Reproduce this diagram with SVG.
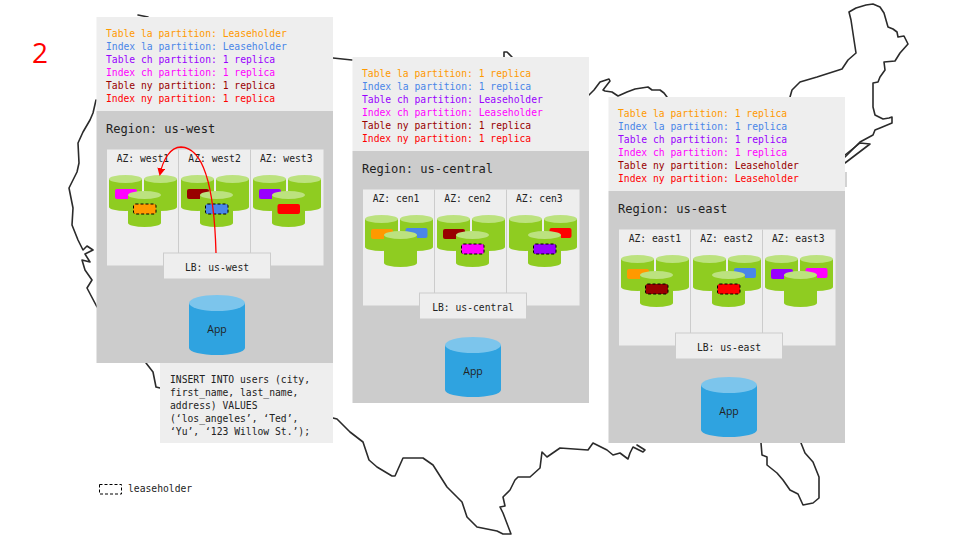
<svg xmlns="http://www.w3.org/2000/svg" xmlns:xlink="http://www.w3.org/1999/xlink" width="960" height="540" viewBox="0 0 960 540">
<style>
text{font-family:"DejaVu Sans Mono","Liberation Mono",monospace;font-size:9.7px;fill:#222}
.map{fill:none;stroke:#2b2b2b;stroke-width:1.6;stroke-linejoin:round;stroke-linecap:round}
.info{fill:#eee}.region{fill:#ccc}
.rt{font-size:12.1px}
.mid{text-anchor:middle}
.div{stroke:#ccc;stroke-width:1}
.lb{fill:#eee;stroke:#ccc;stroke-width:1}
.body{fill:#8fcc21}.top{fill:#bce27f}
.appbody{fill:#2fa3e0}.apptop{fill:#7cc5ec}
.app{font-family:"Open Sans","Noto Sans",sans-serif;font-size:10.5px}
.lh{stroke:#000;stroke-width:1;stroke-dasharray:3 2}
.o{fill:#f90}.b{fill:#4a86e8}.p{fill:#90f}.m{fill:#f0f}.d{fill:#900}.r{fill:#f00}
.arrow{fill:none;stroke:#f00;stroke-width:1.3}
</style>
<defs>
<g id="cyl"><path class="body" d="M0,4V32A16.5,4 0 0 0 33,32V4Z"/><ellipse class="top" cx="16.5" cy="4" rx="16.5" ry="4"/></g>
<g id="appdb"><path class="appbody" d="M0,8V53A28,7 0 0 0 56,53V8Z"/><ellipse class="apptop" cx="28" cy="8" rx="28" ry="8"/></g>
<marker id="ah" viewBox="0 0 8 8" refX="6" refY="4" markerWidth="6" markerHeight="6" orient="auto" markerUnits="strokeWidth"><path d="M0,0L8,4L0,8Z" fill="#f00"/></marker>
</defs>

<g id="map">
<path class="map" d="M138,15L148,17"/>
<path class="map" d="M333,58L352,60"/>
<path class="map" d="M504,57L504,52L507,52L512,57"/>
<path class="map" d="M589,95L594,90L600,82L609,79L610,81L603,90L605,91L612,92L618,96L627,92L635,89L648,87L652,90L660,90L664,93L667,97"/>
<path class="map" d="M790,97L792,90L800,82L817,77L842,69L848,60L856,53L854,40L851,20L849,12L856,8L866,5L873,4L880,7L884,13L886,20L888,27L893,29L897,32L898,37L904,36L908,44L900,53L895,61L884,62L885,70L880,77L878,82L873,83L873,107L875,115L883,119L889,118L892,117L892,123L880,128L875,130L873,135L860,142L845,157"/>
<path class="map" d="M845,163L870,144L860,143L845,155"/>
<path d="M846,172V187" stroke="#bbb" stroke-width="1.3" fill="none"/>
<path class="map" d="M96,100L93,113L90,120L83,132L78,143L79,163L77,172L69,188L73,208L72,225L78,240L83,250L87,246L93,250L85,254L90,262L82,260L85,270L92,280L87,288L97,307"/>
<path class="map" d="M146,363L153,372L156,387L160,388"/>
<path class="map" d="M333,418L337,419L350,432L363,442L369,460L377,467L392,476L395,476L403,458L423,458L433,465L447,487L462,502L467,517L477,527L497,531L503,534L511,534L503,513L500,507L505,506L503,497L510,490L515,480L518,477L530,477L540,468L542,452L547,457L560,448L588,450L593,443L607,450L613,455L620,453L628,459L630,453L633,447L643,452L645,450L637,445"/>
<path class="map" d="M761,443L762,455L767,457L767,465L777,473L783,480L790,490L798,494L803,505L813,503L819,498L819,477L813,462L805,453L801,443"/>
</g>

<text x="40" y="63" class="mid" style="font-family:'Open Sans','Noto Sans',sans-serif;font-size:28px;fill:#f00">2</text>

<g id="region-us-west">
<rect class="info" x="96.500" y="17" width="236.500" height="94"/>
<text x="106" y="36.700" class="o">Table la partition: Leaseholder</text>
<text x="106" y="49.700" class="b">Index la partition: Leaseholder</text>
<text x="106" y="62.700" class="p">Table ch partition: 1 replica</text>
<text x="106" y="75.700" class="m">Index ch partition: 1 replica</text>
<text x="106" y="88.700" class="d">Table ny partition: 1 replica</text>
<text x="106" y="101.700" class="r">Index ny partition: 1 replica</text>
<rect class="region" x="96.500" y="111" width="236.500" height="252"/>
<text x="106" y="133" class="rt">Region: us-west</text>
<rect class="info" x="107" y="149.500" width="216.500" height="116"/>
<path class="div" d="M178.500,149.500V265.500M250.500,149.500V265.500"/>
<text x="116.700" y="161.700">AZ: west1</text>
<text x="188.300" y="161.700">AZ: west2</text>
<text x="260" y="161.700">AZ: west3</text>
<g id="az-west1"><use href="#cyl" x="109" y="175"/><use href="#cyl" x="144" y="175"/><rect class="m" x="115" y="189" width="22" height="10" rx="2"/><use href="#cyl" x="128" y="191"/><rect class="o lh" x="133.500" y="204" width="22.500" height="10" rx="2"/></g>
<g id="az-west2"><use href="#cyl" x="181" y="175"/><use href="#cyl" x="216" y="175"/><rect class="d" x="187" y="189" width="22" height="10" rx="2"/><use href="#cyl" x="200" y="191"/><rect class="b lh" x="205.500" y="204" width="22.500" height="10" rx="2"/></g>
<g id="az-west3"><use href="#cyl" x="253" y="175"/><use href="#cyl" x="288" y="175"/><rect class="p" x="259" y="189" width="22" height="10" rx="2"/><use href="#cyl" x="272" y="191"/><rect class="r" x="277.500" y="204" width="22.500" height="10" rx="2"/></g>
<g id="lb-us-west"><rect class="lb" x="163.500" y="253" width="107" height="26"/><text x="217" y="270.700" class="mid">LB: us-west</text></g>
<g id="app-us-west"><use href="#appdb" x="189" y="295"/><text x="217" y="333" class="mid app">App</text></g>
</g>

<g id="region-us-central" transform="translate(256,40)">
<rect class="info" x="96.500" y="17" width="236.500" height="94"/>
<text x="106" y="36.700" class="o">Table la partition: 1 replica</text>
<text x="106" y="49.700" class="b">Index la partition: 1 replica</text>
<text x="106" y="62.700" class="p">Table ch partition: Leaseholder</text>
<text x="106" y="75.700" class="m">Index ch partition: Leaseholder</text>
<text x="106" y="88.700" class="d">Table ny partition: 1 replica</text>
<text x="106" y="101.700" class="r">Index ny partition: 1 replica</text>
<rect class="region" x="96.500" y="111" width="236.500" height="252"/>
<text x="106" y="133" class="rt">Region: us-central</text>
<rect class="info" x="107" y="149.500" width="216.500" height="116"/>
<path class="div" d="M178.500,149.500V265.500M250.500,149.500V265.500"/>
<text x="116.700" y="161.700">AZ: cen1</text>
<text x="188.300" y="161.700">AZ: cen2</text>
<text x="260" y="161.700">AZ: cen3</text>
<g id="az-cen1"><use href="#cyl" x="109" y="175"/><use href="#cyl" x="144" y="175"/><rect class="o" x="115" y="189" width="22" height="10" rx="2"/><rect class="b" x="149.500" y="188" width="22" height="10" rx="2"/><use href="#cyl" x="128" y="191"/></g>
<g id="az-cen2"><use href="#cyl" x="181" y="175"/><use href="#cyl" x="216" y="175"/><rect class="d" x="187" y="189" width="22" height="10" rx="2"/><use href="#cyl" x="200" y="191"/><rect class="m lh" x="205.500" y="204" width="22.500" height="10" rx="2"/></g>
<g id="az-cen3"><use href="#cyl" x="253" y="175"/><use href="#cyl" x="288" y="175"/><rect class="r" x="293.500" y="188" width="22" height="10" rx="2"/><use href="#cyl" x="272" y="191"/><rect class="p lh" x="277.500" y="204" width="22.500" height="10" rx="2"/></g>
<g id="lb-us-central"><rect class="lb" x="163.500" y="253" width="107" height="26"/><text x="217" y="270.700" class="mid">LB: us-central</text></g>
<g id="app-us-central"><use href="#appdb" x="189" y="297"/><text x="217" y="335" class="mid app">App</text></g>
</g>

<g id="region-us-east" transform="translate(512,80)">
<rect class="info" x="96.500" y="17" width="236.500" height="94"/>
<text x="106" y="36.700" class="o">Table la partition: 1 replica</text>
<text x="106" y="49.700" class="b">Index la partition: 1 replica</text>
<text x="106" y="62.700" class="p">Table ch partition: 1 replica</text>
<text x="106" y="75.700" class="m">Index ch partition: 1 replica</text>
<text x="106" y="88.700" class="d">Table ny partition: Leaseholder</text>
<text x="106" y="101.700" class="r">Index ny partition: Leaseholder</text>
<rect class="region" x="96.500" y="111" width="236.500" height="252"/>
<text x="106" y="133" class="rt">Region: us-east</text>
<rect class="info" x="107" y="149.500" width="216.500" height="116"/>
<path class="div" d="M178.500,149.500V265.500M250.500,149.500V265.500"/>
<text x="116.700" y="161.700">AZ: east1</text>
<text x="188.300" y="161.700">AZ: east2</text>
<text x="260" y="161.700">AZ: east3</text>
<g id="az-east1"><use href="#cyl" x="109" y="175"/><use href="#cyl" x="144" y="175"/><rect class="o" x="115" y="189" width="22" height="10" rx="2"/><use href="#cyl" x="128" y="191"/><rect class="d lh" x="133.500" y="204" width="22.500" height="10" rx="2"/></g>
<g id="az-east2"><use href="#cyl" x="181" y="175"/><use href="#cyl" x="216" y="175"/><rect class="b" x="222" y="188" width="22" height="10" rx="2"/><use href="#cyl" x="200" y="191"/><rect class="r lh" x="205.500" y="204" width="22.500" height="10" rx="2"/></g>
<g id="az-east3"><use href="#cyl" x="253" y="175"/><use href="#cyl" x="288" y="175"/><rect class="p" x="259" y="189" width="22" height="10" rx="2"/><rect class="m" x="293.500" y="188" width="22" height="10" rx="2"/><use href="#cyl" x="272" y="191"/></g>
<g id="lb-us-east"><rect class="lb" x="163.500" y="253" width="107" height="26"/><text x="217" y="270.700" class="mid">LB: us-east</text></g>
<g id="app-us-east"><use href="#appdb" x="189" y="297"/><text x="217" y="335" class="mid app">App</text></g>
</g>

<g id="sql">
<rect class="info" x="160" y="363" width="173" height="80"/>
<text x="170" y="383">INSERT INTO users (city,</text>
<text x="170" y="396">first_name, last_name,</text>
<text x="170" y="409">address) VALUES</text>
<text x="170" y="422">(‘los_angeles’, ‘Ted’,</text>
<text x="170" y="435">‘Yu’, ‘123 Willow St.’);</text>
</g>

<g id="legend">
<rect x="99.500" y="484.500" width="22" height="9.500" fill="none" class="lh"/>
<text x="128" y="492">leaseholder</text>
</g>

<g id="connectors">
<path class="arrow" marker-end="url(#ah)" d="M216,253C215,215 210,148 181,147C170,147 163,160 160,174"/>
</g>
</svg>
